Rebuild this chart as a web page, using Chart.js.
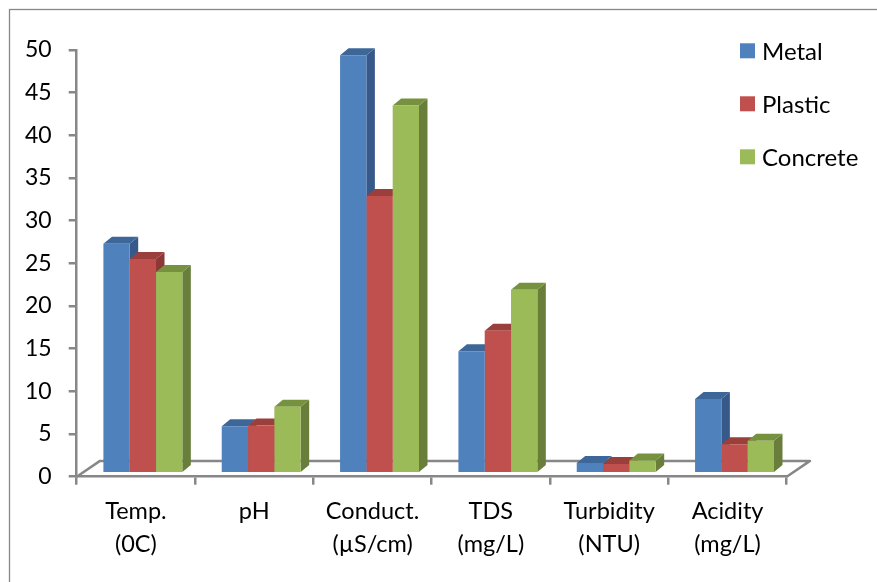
<!DOCTYPE html>
<html><head><meta charset="utf-8">
<script src="https://cdn.jsdelivr.net/npm/chart.js@4/dist/chart.umd.min.js"></script>
<style>html,body{margin:0;padding:0;background:#fff;overflow:hidden}</style>
</head><body>
<canvas id="c" width="877" height="582"></canvas>
<script>
const categories = [["Temp.","(0C)"],["pH"],["Conduct.","(µS/cm)"],["TDS","(mg/L)"],["Turbidity","(NTU)"],["Acidity","(mg/L)"]];
const metal    = [26.9, 5.5, 49.0, 14.3, 1.2, 8.7];
const plastic  = [25.1, 5.6, 32.5, 16.7, 1.1, 3.4];
const concrete = [23.6, 7.8, 43.1, 21.5, 1.5, 3.8];
const seriesNames = ["Metal", "Plastic", "Concrete"];
const yMin = 0, yMax = 50, yStep = 5;

const frontColors = ["#4F81BD", "#C0504D", "#9BBB59"];
const sideColors  = ["#36598A", "#8C3836", "#687E3A"];
const topColors   = ["#3E6799", "#9B3F3C", "#77923E"];
const AXIS = "#878787";
const SHIFT = {x: 7, y: -3.4};      // bars sit slightly behind the front floor edge
const DEPTH = {x: 8.5, y: -7};      // bar depth
const FLOOR = {x: 23.3, y: -15.8};  // floor depth
const FONT = "Lato";

const depthPlugin = {
  id: "depth",
  beforeDraw(chart) {
    const ctx = chart.ctx;
    ctx.save();
    ctx.strokeStyle = AXIS;
    ctx.lineWidth = 1.3;
    ctx.strokeRect(9.5, 9.5, 2000, 2000);
    ctx.restore();
  },
  beforeDatasetsDraw(chart) {
    const ctx = chart.ctx;
    const xs = chart.scales.x, ys = chart.scales.y;
    const b = ys.getPixelForValue(0);
    ctx.save();
    ctx.strokeStyle = AXIS;
    ctx.lineWidth = 2.5;
    ctx.lineJoin = "round";
    ctx.beginPath();
    ctx.moveTo(xs.left, b);
    ctx.lineTo(xs.left + FLOOR.x, b + FLOOR.y);
    ctx.lineTo(xs.right + FLOOR.x, b + FLOOR.y);
    ctx.lineTo(xs.right, b);
    ctx.stroke();
    const n = chart.data.labels.length;
    for (let i = 0; i < n; i++) {
      chart.data.datasets.forEach((ds, d) => {
        const el = chart.getDatasetMeta(d).data[i];
        const L = el.x - el.width / 2 + SHIFT.x, R = el.x + el.width / 2 + SHIFT.x;
        const T = el.y + SHIFT.y, B = el.base + SHIFT.y;
        ctx.fillStyle = sideColors[d];
        ctx.beginPath();
        ctx.moveTo(R, T); ctx.lineTo(R + DEPTH.x, T + DEPTH.y);
        ctx.lineTo(R + DEPTH.x, B + DEPTH.y); ctx.lineTo(R, B); ctx.closePath(); ctx.fill();
        ctx.fillStyle = topColors[d];
        ctx.beginPath();
        ctx.moveTo(L, T); ctx.lineTo(L + DEPTH.x, T + DEPTH.y);
        ctx.lineTo(R + DEPTH.x, T + DEPTH.y); ctx.lineTo(R, T); ctx.closePath(); ctx.fill();
      });
    }
    ctx.restore();
    ctx.save();
    ctx.translate(SHIFT.x, SHIFT.y);
  },
  afterDatasetsDraw(chart) {
    chart.ctx.restore();
  },
  afterDraw(chart) {
    const ctx = chart.ctx;
    ctx.save();
    ctx.font = "24px " + FONT;
    ctx.textBaseline = "middle";
    ctx.textAlign = "left";
    chart.data.datasets.forEach((ds, d) => {
      const cy = 50.8 + d * 53;
      ctx.fillStyle = ds.backgroundColor;
      ctx.fillRect(740, cy - 7.5, 15, 15);
      ctx.fillStyle = "#000";
      ctx.fillText(ds.label, 762, cy + 1);
    });
    ctx.restore();
  }
};

const seriesData = [metal, plastic, concrete];
new Chart(document.getElementById("c"), {
  type: "bar",
  data: {
    labels: categories,
    datasets: seriesData.map((v, i) => ({
      label: seriesNames[i], data: v, backgroundColor: frontColors[i], borderWidth: 0
    }))
  },
  options: {
    responsive: false,
    animation: false,
    devicePixelRatio: 1,
    layout: {padding: {left: 9, top: 50, right: 90.3, bottom: 0}},
    datasets: {bar: {categoryPercentage: 0.667, barPercentage: 1}},
    plugins: {legend: {display: false}, tooltip: {enabled: false}},
    scales: {
      x: {
        grid: {display: true, drawOnChartArea: false, drawTicks: true, tickLength: 8, color: AXIS, lineWidth: 2.5, offset: true},
        border: {display: true, color: AXIS, width: 2.5},
        ticks: {font: {family: FONT, size: 23.5, lineHeight: 1.383}, color: "#000", padding: 10.5, maxRotation: 0, autoSkip: false},
        afterFit(s) { s.height = 105.3; }
      },
      y: {
        min: yMin, max: yMax,
        grid: {display: true, drawOnChartArea: false, drawTicks: true, tickLength: 8, color: AXIS, lineWidth: 2.5},
        border: {display: true, color: AXIS, width: 2.5},
        ticks: {stepSize: yStep, font: {family: FONT, size: 23}, color: "#000", padding: 17},
        afterFit(s) { s.width = 67.7; }
      }
    }
  },
  plugins: [depthPlugin]
});
</script>
</body></html>
